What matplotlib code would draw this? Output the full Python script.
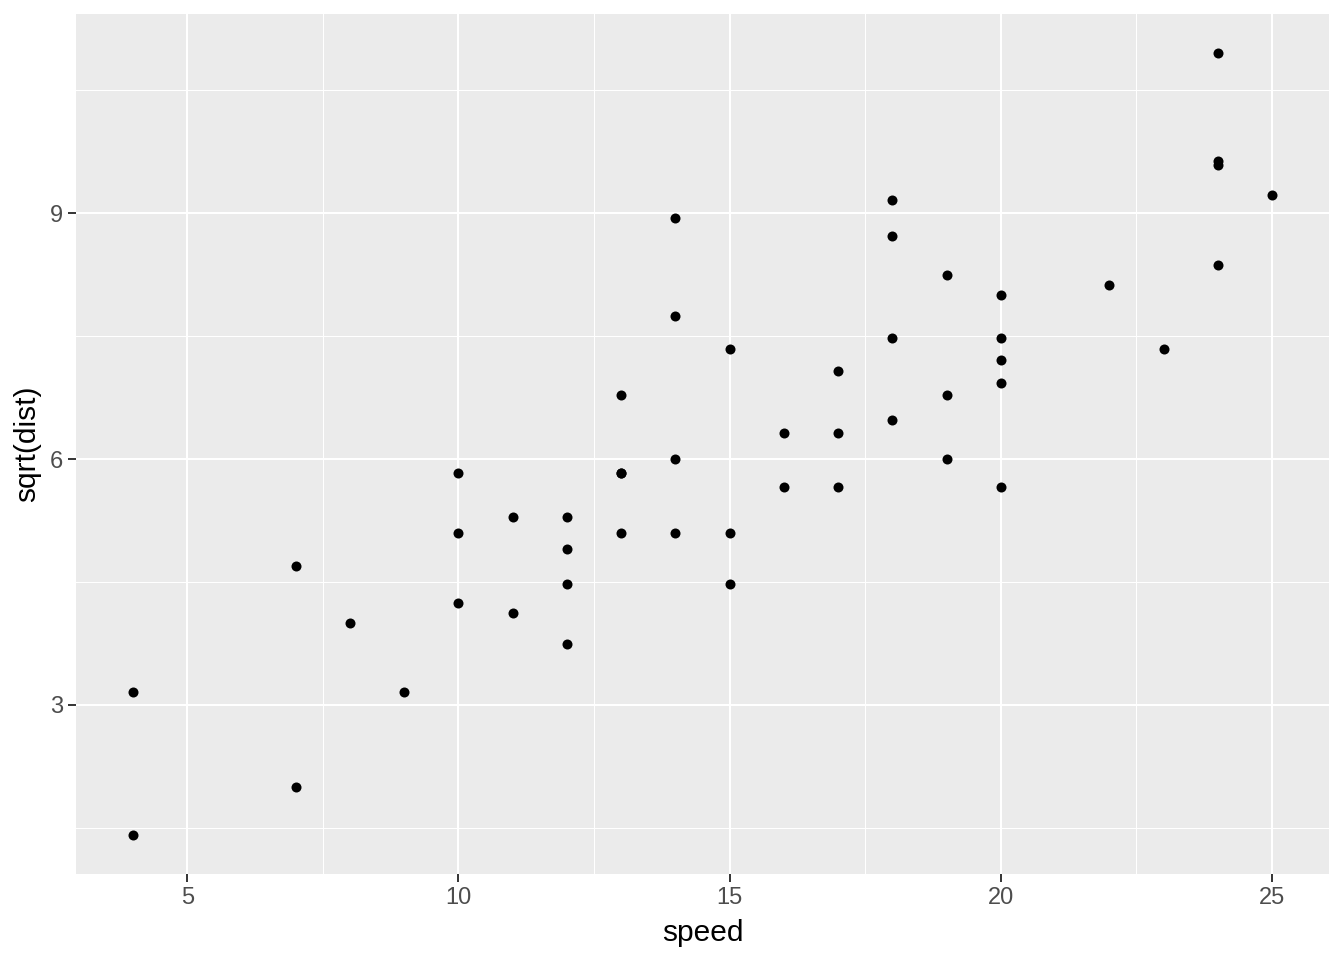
import matplotlib.pyplot as plt
import numpy as np

plt.rcParams['font.family'] = ['Liberation Sans', 'DejaVu Sans']

# cars data set: speed (mph) and stopping distance (ft)
speed = [4, 4, 7, 7, 8, 9, 10, 10, 10, 11, 11, 12, 12, 12, 12, 13, 13, 13, 13,
         14, 14, 14, 14, 15, 15, 15, 16, 16, 17, 17, 17, 18, 18, 18, 18, 19, 19,
         19, 20, 20, 20, 20, 20, 22, 23, 24, 24, 24, 24, 25]
dist = [2, 10, 4, 22, 16, 10, 18, 26, 34, 17, 28, 14, 20, 24, 28, 26, 34, 34, 46,
        26, 36, 60, 80, 20, 26, 54, 32, 40, 32, 40, 50, 42, 56, 76, 84, 36, 46,
        68, 32, 48, 52, 56, 64, 66, 54, 70, 92, 93, 120, 85]

x_ticks = [5, 10, 15, 20, 25]
y_ticks = [3, 6, 9]

x = np.array(speed, dtype=float)
y = np.sqrt(np.array(dist, dtype=float))

W, H = 1344, 960
fig = plt.figure(figsize=(W / 100, H / 100), dpi=100)
ax = fig.add_axes([76 / W, 1 - 874 / H, (1329 - 76) / W, (874 - 14) / H])
ax.set_facecolor('#EBEBEB')

# ggplot-style expansion of 5% on each side
xr = x.max() - x.min()
yr = y.max() - y.min()
ax.set_xlim(x.min() - 0.05 * xr, x.max() + 0.05 * xr)
ax.set_ylim(y.min() - 0.05 * yr, y.max() + 0.05 * yr)

ax.set_xticks(x_ticks)
ax.set_yticks(y_ticks)
ax.set_xticks([7.5, 12.5, 17.5, 22.5], minor=True)
ax.set_yticks([1.5, 4.5, 7.5, 10.5], minor=True)

ax.grid(which='major', color='white', linewidth=1.5)
ax.grid(which='minor', color='white', linewidth=0.75)
ax.set_axisbelow(True)

for s in ax.spines.values():
    s.set_visible(False)

ax.tick_params(which='major', length=5.5, width=1.4, color='#333333',
               labelsize=17, labelcolor='#4D4D4D', pad=4)
ax.tick_params(which='minor', length=0)

ax.scatter(x, y, s=52, color='black', linewidths=0, zorder=3)

ax.set_xlabel('speed', fontsize=21.5, color='black', labelpad=7)
ax.set_ylabel('sqrt(dist)', fontsize=21.5, color='black', labelpad=6)

fig.savefig('out.png', dpi=100)
